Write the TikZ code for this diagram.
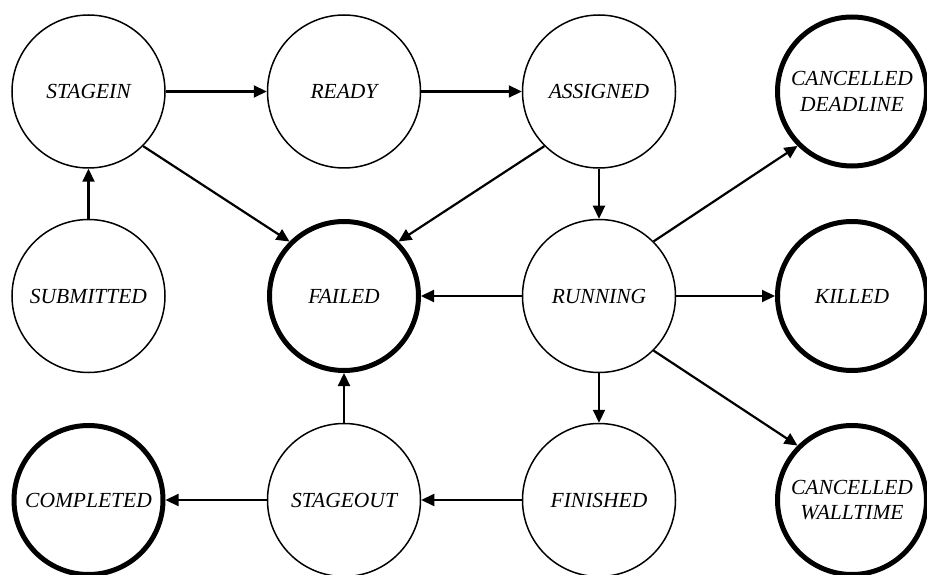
\documentclass[tikz,border=0pt]{standalone}
\usepackage{fontspec}
\setmainfont{Liberation Serif}
\usetikzlibrary{arrows.meta}
\begin{document}
\begin{tikzpicture}[x=1pt,y=-1pt,
    state/.style={circle,draw,line width=1.5pt,minimum size=153pt,inner sep=0pt,
      align=center,font=\fontsize{21.5}{25.5}\selectfont\itshape},
    final/.style={state,line width=5pt,minimum size=149pt},
    edge/.style={line width=2.2pt,-{Triangle[length=13pt,width=12pt]}}]
    \useasboundingbox (0,0) rectangle (927,575);

    \node[state] (stagein)   at (88.5,91.5) {STAGEIN};
    \node[state] (ready)     at (344,91.5)  {READY};
    \node[state] (assigned)  at (599,91.5)  {ASSIGNED};
    \node[final] (deadline)  at (852,91.5)  {CANCELLED\\DEADLINE};

    \node[state] (submitted) at (88.5,296)  {SUBMITTED};
    \node[final] (failed)    at (344,296)   {FAILED};
    \node[state] (running)   at (599,296)   {RUNNING};
    \node[final] (killed)    at (852,296)   {KILLED};

    \node[final] (completed) at (88.5,500)  {COMPLETED};
    \node[state] (stageout)  at (344,500)   {STAGEOUT};
    \node[state] (finished)  at (599,500)   {FINISHED};
    \node[final] (walltime)  at (852,500)   {CANCELLED\\WALLTIME};

    \foreach \a/\b in {stagein/ready, ready/assigned, submitted/stagein,
        stagein.south east/failed.north west, assigned.south west/failed.north east,
        assigned/running, running/failed, running.north east/deadline.south west,
        running/killed, running.south east/walltime.north west, running/finished,
        finished/stageout, stageout/completed, stageout/failed} {
        \draw[edge] (\a) -- (\b); }
\end{tikzpicture}
\end{document}
